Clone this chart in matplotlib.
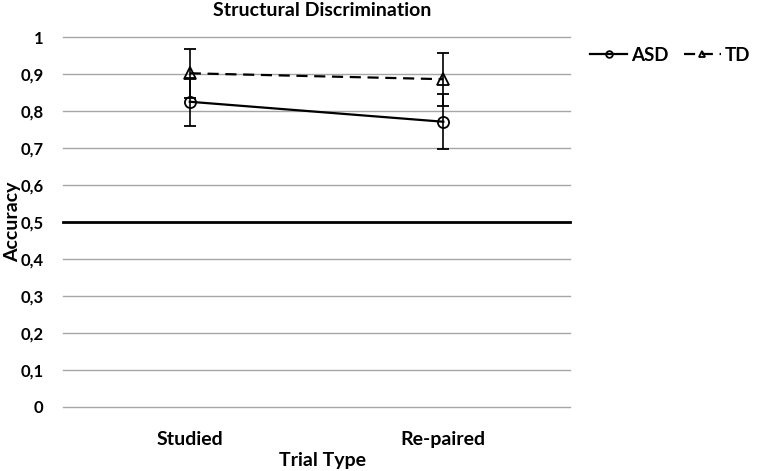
import matplotlib
matplotlib.use('Agg')
import matplotlib.pyplot as plt
import numpy as np

plt.rcParams['font.family'] = ['Lato', 'DejaVu Sans']
plt.rcParams['font.weight'] = 'bold'

# Data
categories = ['Studied', 'Re-paired']
asd_mean = [0.825, 0.771]
asd_err = [0.065, 0.075]
td_mean = [0.902, 0.886]
td_err = [0.066, 0.072]
yticks = np.arange(0, 1.01, 0.1)
ytick_labels = ['0', '0,1', '0,2', '0,3', '0,4', '0,5', '0,6', '0,7', '0,8', '0,9', '1']

fig = plt.figure(figsize=(7.62, 4.71), dpi=100)
ax = fig.add_axes([0.0827, 0.1359, 0.6655, 0.7855])

x = np.arange(len(categories))

# Gridlines (0.5 chance line drawn black and thicker)
for y in yticks:
    if abs(y - 0.5) < 1e-9:
        ax.axhline(y, color='black', lw=2, zorder=1, clip_on=False)
    else:
        ax.axhline(y, color='#a6a6a6', lw=1, zorder=1, clip_on=False)

ax.errorbar(x, asd_mean, yerr=asd_err, color='black', lw=1.6, marker='o',
            markersize=8, markerfacecolor='none', markeredgewidth=1.3,
            capsize=4, elinewidth=1.2, capthick=1.2, label='ASD', zorder=3)
ax.errorbar(x, td_mean, yerr=td_err, color='black', lw=1.6, ls=(0, (5, 3)),
            marker='^', markersize=8, markerfacecolor='none', markeredgewidth=1.3,
            capsize=4, elinewidth=1.2, capthick=1.2, label='TD', zorder=3)

ax.set_xlim(-0.5, 1.5)
ax.set_ylim(0, 1)
ax.set_xticks(x)
ax.set_xticklabels(categories, fontsize=14, fontweight='bold')
ax.set_yticks(yticks)
ax.set_yticklabels(ytick_labels, fontsize=12, fontweight='bold')
ax.tick_params(axis='y', length=0, pad=14)
ax.tick_params(axis='x', length=0, pad=17)
for s in ax.spines.values():
    s.set_visible(False)

fig.text(0.423, 0.978, 'Structural Discrimination', fontsize=14,
         fontweight='bold', ha='center', va='center')
fig.text(0.423, 0.023, 'Trial Type', fontsize=14, fontweight='bold',
         ha='center', va='center')
fig.text(0.016, 0.529, 'Accuracy', fontsize=14, fontweight='bold',
         ha='center', va='center', rotation=90)

handles, labels = ax.get_legend_handles_labels()
handles = [h[0] for h in handles]
leg = ax.legend(handles, labels, loc='center left', bbox_to_anchor=(1.039, 0.951),
                ncol=2, frameon=False, fontsize=13.5, handlelength=2.0,
                columnspacing=0.8, handletextpad=0.2, markerscale=0.6,
                borderaxespad=0, borderpad=0)

fig.savefig('out.png', dpi=100)
